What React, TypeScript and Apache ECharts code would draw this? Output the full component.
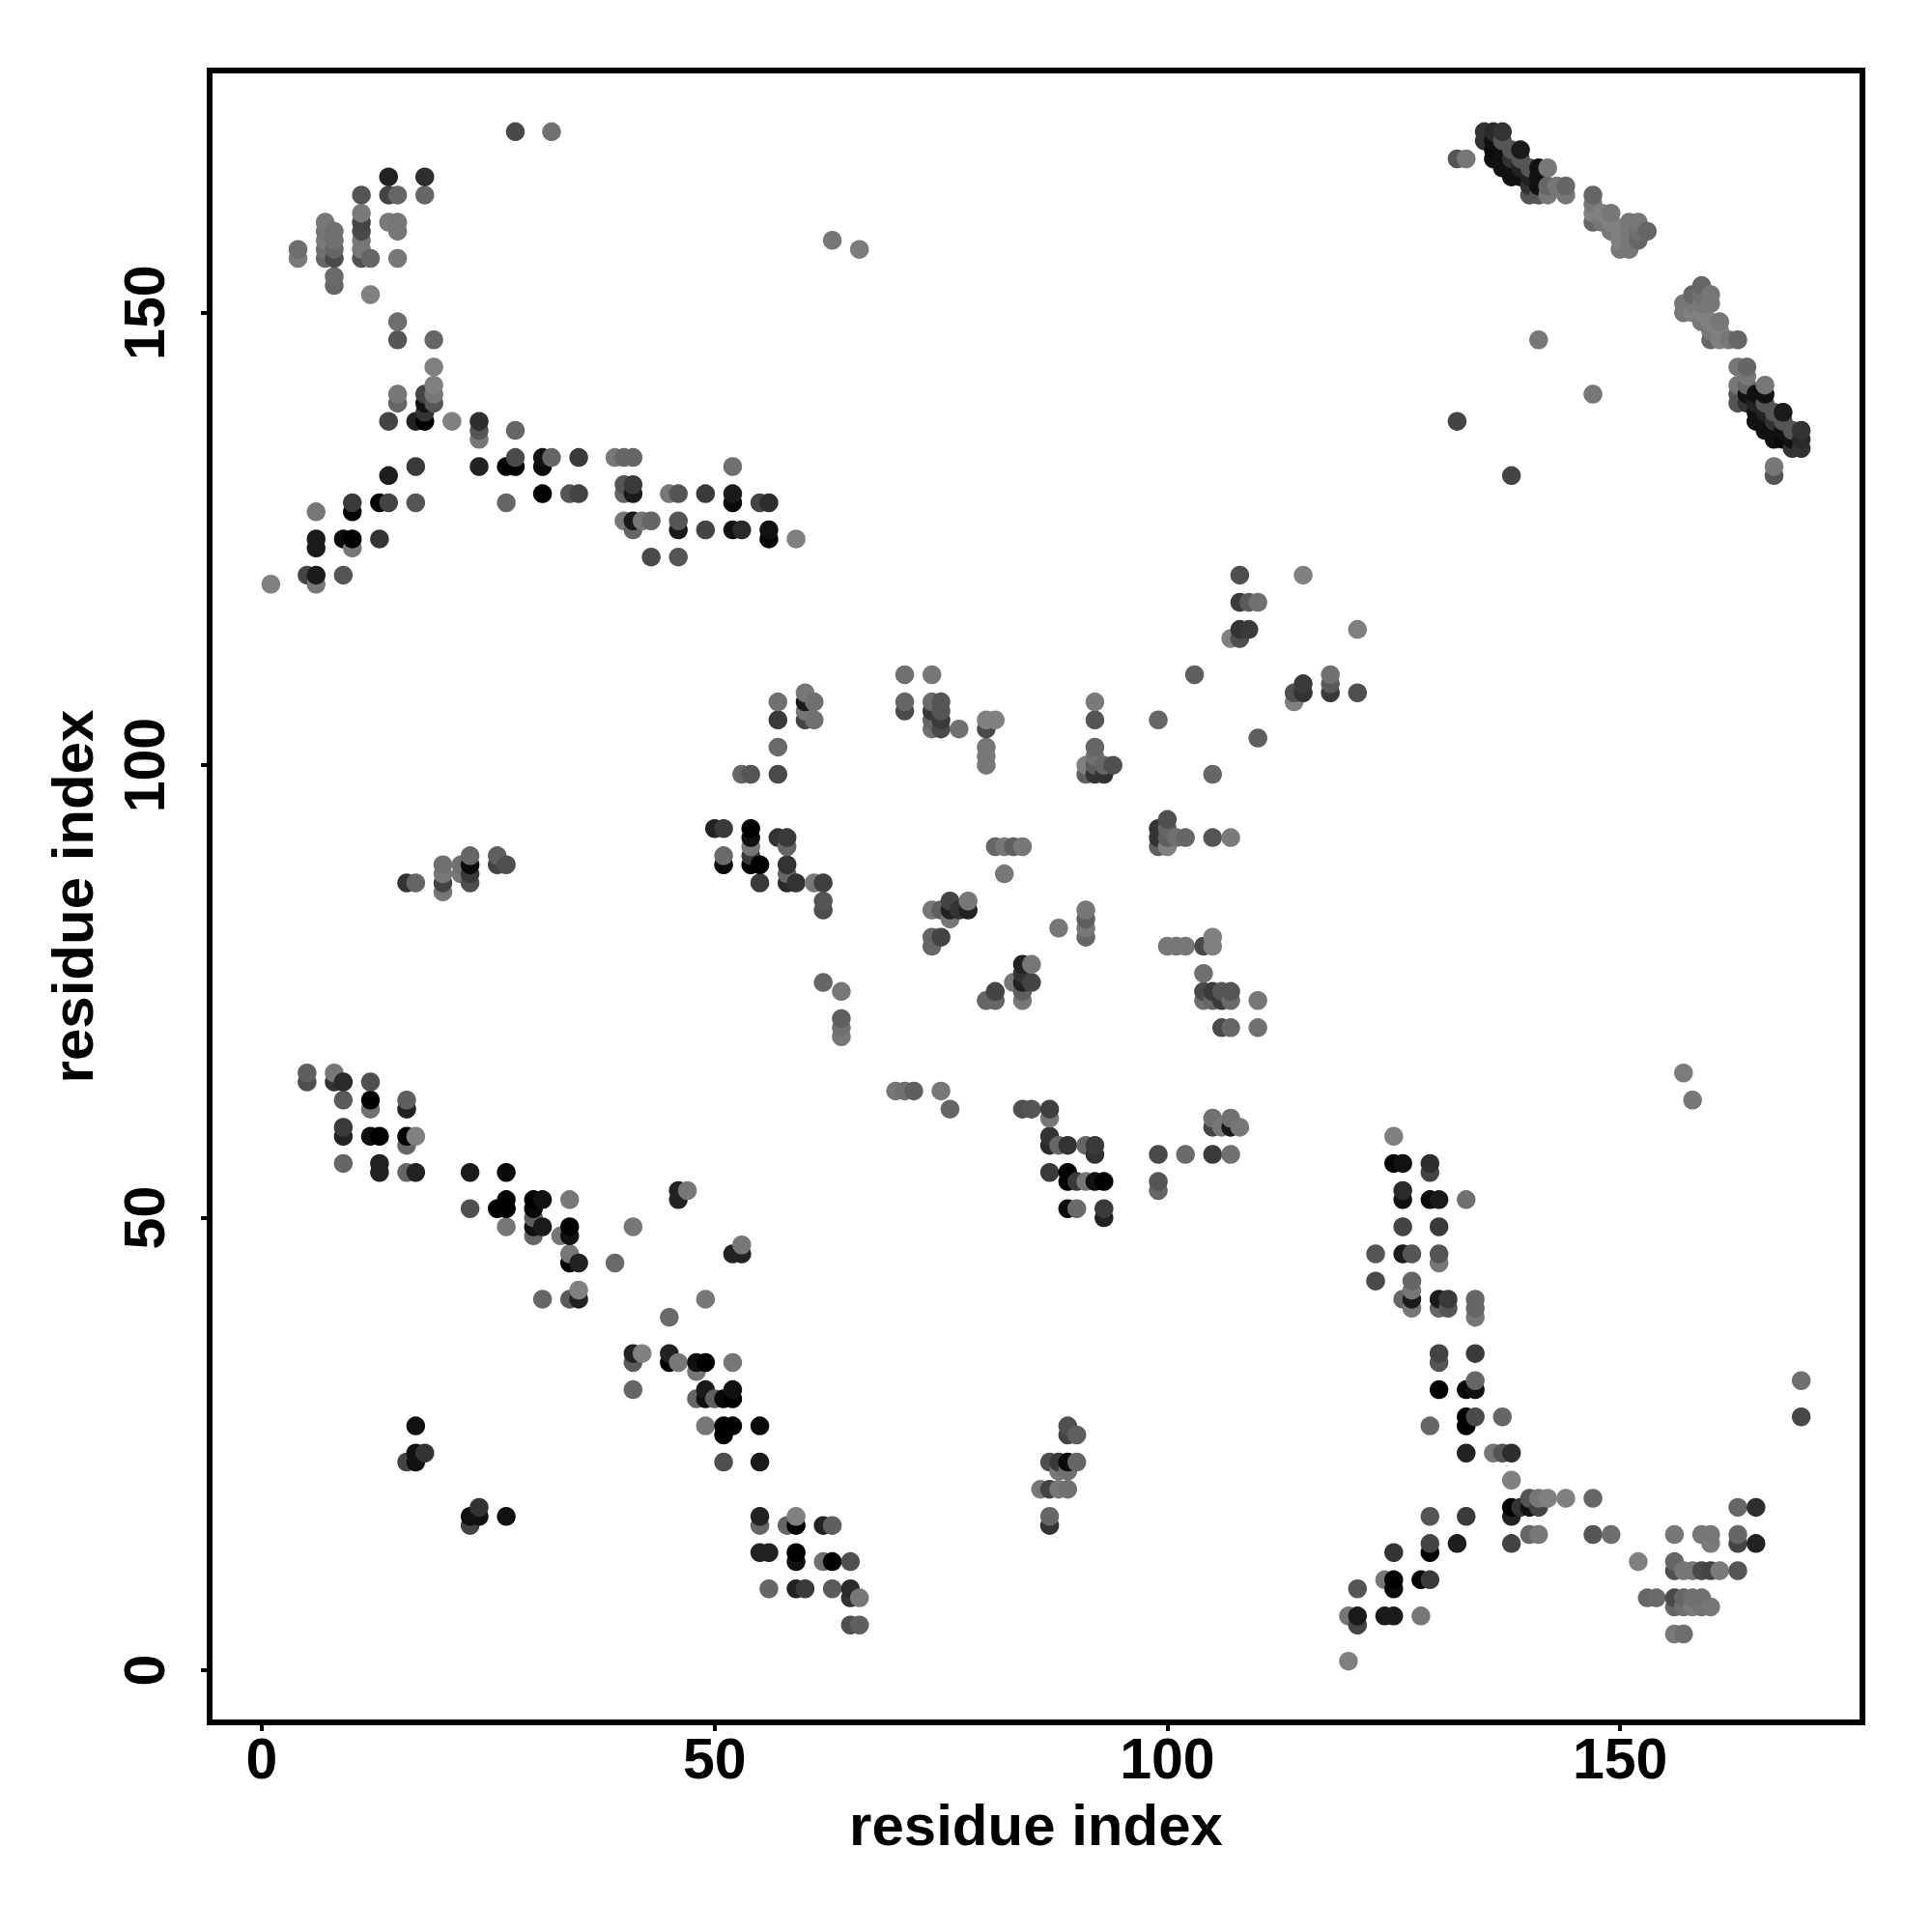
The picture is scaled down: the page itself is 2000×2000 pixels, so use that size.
import React, { useEffect, useRef } from "react";
import * as echarts from "echarts";

type Contact = [number, number, number]; // residue i, residue j (i < j), grey level

const farTop: Contact[] = [
  [28,170,72],[32,170,112],[63,158,119],[66,157,124],[132,138,68],[141,147,119],
];
const topLeft: Contact[] = [
  [4,157,110],[4,156,122],
  [7,160,119],[7,159,116],[7,158,122],[7,157,112],[7,156,102],
  [8,159,112],[8,158,112],[8,157,102],[8,156,74],[8,154,106],[8,153,102],
  [11,163,85],[11,161,122],[11,160,68],[11,159,74],[11,158,119],[11,157,119],[11,156,79],
  [12,156,102],[12,152,128],
  [14,165,34],[14,163,68],[14,160,122],
  [15,163,102],[15,160,119],[15,159,119],[15,156,119],[15,149,110],[15,147,85],[15,141,119],[15,140,102],
  [18,165,46],[18,163,102],
  [14,138,68],[17,138,34],[18,141,68],[18,140,17],[18,139,51],[18,138,0],
  [19,147,102],[19,144,128],[19,142,128],[19,141,119],[19,140,85],
  [21,138,128],[24,138,46],[24,137,85],[24,136,119],[28,137,102],
];
const rowCluster: Contact[] = [
  [1,120,128],[5,121,68],[6,120,119],[6,121,26],[9,121,85],
  [6,124,26],[6,125,26],[6,128,119],[9,125,10],[10,125,0],[10,124,119],[10,128,0],[10,129,58],
  [13,125,51],[13,129,0],[14,129,68],[17,129,85],[14,132,30],[17,133,58],
  [24,133,34],[27,133,0],[28,133,0],[28,134,74],[27,129,102],
  [31,133,10],[31,134,17],[32,134,102],[31,130,0],[34,130,85],[35,130,68],[35,134,58],
  [39,134,119],[40,134,102],[41,134,102],[40,131,85],[41,131,58],[40,130,102],[41,130,26],
  [45,130,119],[46,130,85],[49,130,58],[52,130,26],[52,129,10],[52,133,112],
  [55,129,68],[56,129,46],
  [40,127,119],[41,127,26],[41,126,102],[42,127,119],[43,127,102],
  [46,127,85],[46,126,26],[49,126,68],[52,126,17],[53,126,42],[56,126,17],[56,125,5],[59,125,128],
  [43,123,74],[46,123,85],
];
const upperBand: Contact[] = [
  [132,167,85],[133,167,119],
  [135,170,51],[136,170,42],[137,170,51],[135,169,51],
  [136,169,17],[136,168,10],[136,167,17],
  [137,169,85],[137,168,17],[137,167,17],[137,166,17],
  [138,168,85],[138,167,51],[138,166,17],[138,165,17],
  [139,168,26],[139,167,85],[139,166,34],[139,165,17],
  [140,166,85],[140,165,34],[140,164,51],[140,163,85],
  [141,166,17],[141,165,17],[141,164,17],[141,163,85],
  [142,166,119],[142,164,102],[142,163,119],[143,164,119],[144,164,102],[144,163,119],
];
const fadedBand: Contact[] = [
  [147,163,102],[147,162,119],[147,161,128],[147,160,102],
  [148,161,128],[148,160,119],[149,161,119],[149,160,128],[149,159,119],
  [150,159,128],[150,158,128],[150,157,119],
  [151,160,119],[151,159,119],[151,158,119],[151,157,119],
  [152,160,119],[152,159,112],[152,158,102],[153,159,102],
];
const middleCluster: Contact[] = [
  [50,93,34],[51,93,58],[54,93,0],[54,92,17],[54,91,119],[54,90,58],[54,89,0],[55,89,0],
  [51,90,106],[51,89,10],[55,87,58],
  [57,92,51],[58,92,58],[58,91,102],[58,89,51],[58,88,102],[58,87,42],[59,87,51],
  [61,87,119],[62,87,63],[62,85,85],[62,84,79],
  [53,99,102],[54,99,85],[57,99,74],[57,102,106],[57,105,58],[57,107,112],
  [60,108,119],[60,107,26],[60,106,119],[60,105,68],[61,107,112],[61,105,112],
  [62,76,102],[64,75,119],[64,72,95],[64,71,112],[64,70,119],
  [71,110,112],[74,110,119],[71,107,102],[71,106,74],
  [74,107,106],[75,107,85],[74,106,58],[75,106,85],[74,105,102],[75,105,58],[74,104,112],[75,104,74],
  [77,104,112],
  [80,105,128],[81,105,128],[80,104,74],[80,102,119],[80,101,119],[80,100,119],
  [81,91,102],[82,91,119],[83,91,95],[84,91,119],[82,88,119],
  [76,85,68],[78,85,119],[74,84,119],[75,84,95],[76,84,34],[77,84,51],[78,84,34],[76,83,119],
  [74,81,102],[75,81,68],[74,80,102],
  [91,100,128],[91,99,95],[92,107,122],[92,105,85],[92,102,102],[92,101,112],[92,100,95],[92,99,51],
  [93,100,102],[93,99,51],[94,100,79],[99,105,102],[103,110,95],
  [107,114,128],[108,114,79],[108,115,51],[109,115,58],
  [108,118,58],[109,118,90],[110,118,112],[108,121,79],[115,121,128],
];
const lowerBand: Contact[] = [
  [5,66,95],[5,65,79],[8,66,119],[8,65,51],[9,65,42],[12,65,79],
  [9,63,90],[12,63,0],[12,62,112],[16,63,95],[16,62,34],
  [9,60,58],[9,59,34],[12,59,17],[13,59,0],[16,59,0],[17,59,128],[16,58,102],
  [9,56,102],[13,56,34],[13,55,34],[16,55,102],[17,55,34],
  [23,55,26],[27,55,10],[23,51,79],[27,52,0],[27,51,0],[26,51,0],[27,49,119],
  [30,52,0],[31,52,17],[30,51,10],[30,50,95],[30,49,17],[31,49,26],[30,48,102],
  [34,52,119],[34,49,0],[34,48,17],[33,48,119],[34,46,119],[34,45,0],[35,45,34],
  [39,45,106],[41,49,119],[46,53,34],[46,52,34],[47,53,119],
  [31,41,102],[34,41,90],[35,41,34],[35,42,128],
];
const offDiagonal: Contact[] = [
  [16,87,51],[17,87,102],[20,89,112],[20,88,119],[20,87,68],[20,86,119],
  [22,89,112],[22,88,119],[23,90,102],[23,89,10],[23,88,58],[23,87,79],
  [26,90,95],[26,89,68],[27,89,79],
  [16,23,68],[17,23,17],[17,24,17],[18,24,51],[17,27,17],
];

const contacts: Contact[] = [
  ...farTop, ...topLeft, ...rowCluster, ...upperBand, ...fadedBand,
  ...middleCluster, ...lowerBand, ...offDiagonal,
];
const tickValues = [0, 50, 100, 150];

function buildData() {
  // the contact map holds each residue pair twice, once on each side of the diagonal
  const both: Contact[] = [];
  contacts.forEach(([i, j, g]) => {
    both.push([i, j, g]);
    both.push([j, i, g]);
  });
  both.sort((a, b) => a[0] - b[0] || a[1] - b[1]);
  return both.map(([x, y, g]) => ({
    value: [x, y],
    itemStyle: { color: `rgb(${g},${g},${g})`, opacity: 1 },
  }));
}

const font = "'Liberation Sans', Arial, sans-serif";

export default function App() {
  const ref = useRef<HTMLDivElement>(null);
  useEffect(() => {
    const chart = echarts.init(ref.current!, undefined, { renderer: "svg" });
    const axisCommon = {
      type: "value" as const,
      min: -5.76,
      max: 176.76,
      name: "residue index",
      nameLocation: "middle" as const,
      nameTextStyle: { fontFamily: font, fontWeight: "bold" as const, fontSize: 60, color: "#000" },
      axisLine: { show: false, onZero: false },
      splitLine: { show: false },
      axisTick: { show: true, length: 9, customValues: tickValues, lineStyle: { color: "#000", width: 4 } },
    };
    chart.setOption({
      animation: false,
      backgroundColor: "#fff",
      grid: {
        show: true,
        left: 217,
        top: 73,
        width: 1711,
        height: 1710,
        borderColor: "#000",
        borderWidth: 6,
        backgroundColor: "transparent",
      },
      xAxis: {
        ...axisCommon,
        nameGap: 76,
        axisLabel: {
          customValues: tickValues,
          margin: 8,
          fontFamily: font,
          fontWeight: "bold",
          fontSize: 59,
          color: "#000",
        },
      },
      yAxis: {
        ...axisCommon,
        nameGap: 112,
        axisLabel: {
          customValues: tickValues,
          rotate: 90,
          margin: 38,
          fontFamily: font,
          fontWeight: "bold",
          fontSize: 59,
          color: "#000",
        },
      },
      series: [
        {
          type: "scatter",
          symbol: "circle",
          symbolSize: 19.5,
          data: buildData(),
          silent: true,
        },
      ],
    });
    return () => chart.dispose();
  }, []);
  return (
    <div
      ref={ref}
      style={{ position: "absolute", left: 0, top: 0, width: 2000, height: 2000, background: "#fff" }}
    />
  );
}
